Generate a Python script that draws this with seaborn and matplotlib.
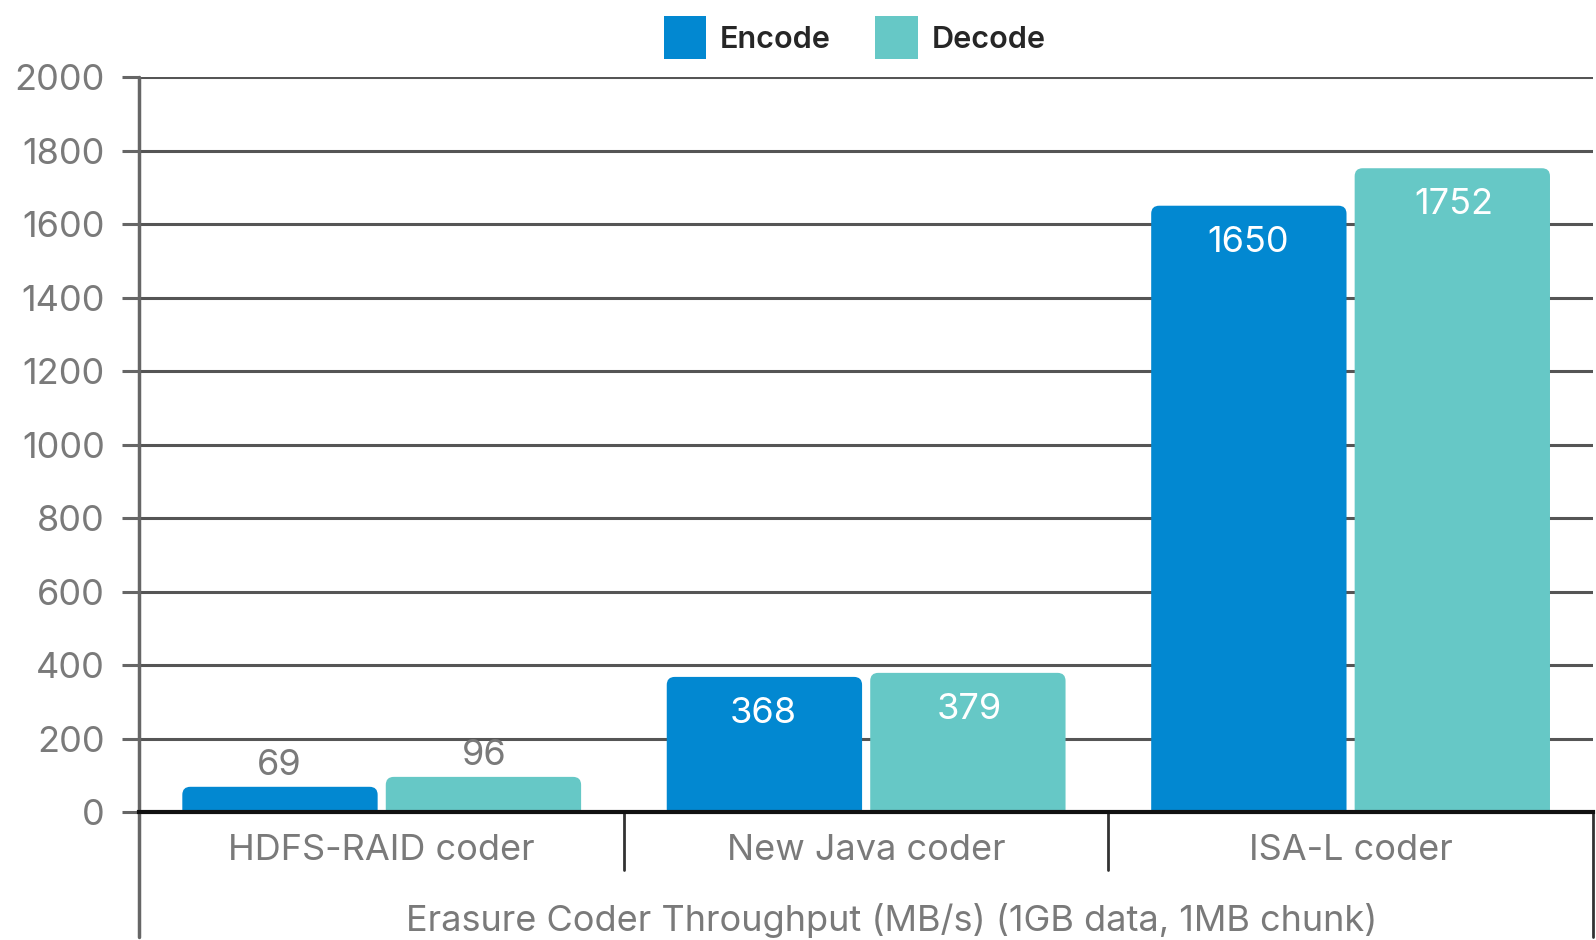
import matplotlib
matplotlib.use("Agg")
import matplotlib.pyplot as plt
from matplotlib.path import Path
from matplotlib.patches import PathPatch
import seaborn as sns
import pandas as pd

coders = ["HDFS-RAID coder", "New Java coder", "ISA-L coder"]
encode = [69, 368, 1650]
decode = [96, 379, 1752]
series = ["Encode", "Decode"]
colors = ["#0288D1", "#66C8C6"]
yticks = [0, 200, 400, 600, 800, 1000, 1200, 1400, 1600, 1800, 2000]
xlabel = "Erasure Coder Throughput (MB/s) (1GB data, 1MB chunk)"

df = pd.DataFrame({
    "coder": coders * 2,
    "series": [series[0]] * 3 + [series[1]] * 3,
    "value": encode + decode,
})

sns.set_theme(style="white")
plt.rcParams["font.family"] = ["Inter", "DejaVu Sans"]

FIG_W, FIG_H = 15.96, 9.40
AX = [0.0874, 0.136, 0.9106, 0.782]
fig = plt.figure(figsize=(FIG_W, FIG_H), dpi=100)
ax = fig.add_axes(AX)

sns.barplot(data=df, x="coder", y="value", hue="series", hue_order=series,
            palette=colors, width=0.84, gap=0.04, ax=ax, legend=False,
            saturation=1, linewidth=0)

ax.set_xlim(-0.5, 2.5)
ax.set_ylim(0, 2000)


def top_rounded(x, y, w, h, rx, ry):
    """Bar outline with rounded upper corners."""
    verts = [(x, y), (x + w, y), (x + w, y + h - ry),
             (x + w, y + h), (x + w - rx, y + h),
             (x + rx, y + h),
             (x, y + h), (x, y + h - ry),
             (x, y)]
    codes = [Path.MOVETO, Path.LINETO, Path.LINETO,
             Path.CURVE3, Path.CURVE3,
             Path.LINETO,
             Path.CURVE3, Path.CURVE3,
             Path.CLOSEPOLY]
    return Path(verts, codes)


# corner radius of ~8 px expressed in data units on each axis
px_x = 3 / (AX[2] * FIG_W * 100)
px_y = 2000 / (AX[3] * FIG_H * 100)
rx, ry = 8 * px_x, 8 * px_y
for p in list(ax.patches):
    x, y = p.get_x(), p.get_y()
    w, h = p.get_width(), p.get_height()
    fc = p.get_facecolor()
    p.set_visible(False)
    ax.add_patch(PathPatch(top_rounded(x, y, w, h, rx, ry), facecolor=fc,
                           edgecolor="none", zorder=3))

ax.set_yticks(yticks)
ax.set_yticklabels([str(t) for t in yticks])
ax.grid(axis="y", color="#555555", linewidth=2.2, zorder=0)
ax.set_axisbelow(True)
ax.tick_params(axis="y", length=12.5, width=2.2, color="#666666", labelsize=26,
               labelcolor="#7a7a7a", pad=12.5, left=True)
ax.tick_params(axis="x", length=0, labelsize=26, labelcolor="#7a7a7a", pad=16)
for s in ["top", "right", "left"]:
    ax.spines[s].set_visible(False)
ax.spines["bottom"].set_color("#111111")
ax.spines["bottom"].set_linewidth(3)
ax.spines["bottom"].set_zorder(4)

# left axis line running down through the category band
ax.plot([0, 0], [1, -0.17], transform=ax.transAxes, color="#666666",
        linewidth=2.5, clip_on=False, zorder=4)
# category separators
for xs, yb in [(1 / 3, -0.079), (2 / 3, -0.079), (1, -0.17)]:
    ax.plot([xs, xs], [0, yb], transform=ax.transAxes, color="#333333",
            linewidth=2, clip_on=False)

ax.set_xlabel(xlabel, fontsize=26, color="#7a7a7a")
ax.xaxis.set_label_coords(0.5175, -0.124)
ax.set_ylabel("")

# value labels
offsets = [-0.2125, 0.2125]
for i in range(len(coders)):
    for j, vals in enumerate([encode, decode]):
        v = vals[i]
        xpos = i + offsets[j]
        if v < 200:
            ax.text(xpos, v + 57, str(v), ha="center", va="center",
                    fontsize=26, color="#7a7a7a", zorder=5)
        else:
            ax.text(xpos, v - 100, str(v), ha="center", va="center",
                    fontsize=26, color="white", zorder=5)

# legend
handles = [plt.Rectangle((0, 0), 1, 1, facecolor=c, edgecolor="none") for c in colors]
fig.legend(handles, series, loc="upper center", bbox_to_anchor=(0.5355, 1.012),
           ncol=2, frameon=False, prop={"size": 22, "weight": "semibold"},
           handlelength=1.4, handleheight=1.8, columnspacing=1.45,
           handletextpad=0.45)

fig.savefig("out.png", dpi=100)
